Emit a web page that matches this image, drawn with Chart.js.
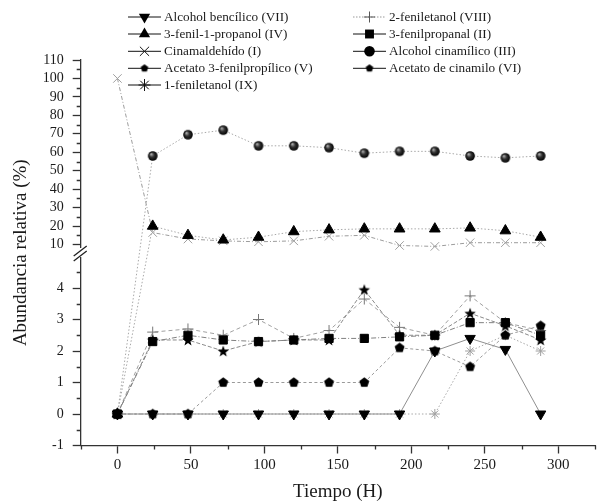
<!DOCTYPE html>
<html><head><meta charset="utf-8">
<script src="https://cdn.jsdelivr.net/npm/chart.js@4/dist/chart.umd.min.js"></script>
<style>html,body{margin:0;padding:0;background:#fff;} #wrap{position:relative;width:612px;height:501px;}</style>
</head><body><div id="wrap"><canvas id="c" width="612" height="501"></canvas></div>
<script>
// ---------- data ----------
const TIME = [0,24,48,72,96,120,144,168,192,216,240,264,288];
const NAMES = ['Alcohol bencílico (VII)','3-fenil-1-propanol (IV)','Cinamaldehído (I)','Acetato 3-fenilpropílico (V)','1-feniletanol (IX)',
               '2-feniletanol (VIII)','3-fenilpropanal (II)','Alcohol cinamílico (III)','Acetato de cinamilo (VI)'];
const alcoholBencilico      = [0,0,0,0,0,0,0,0,0,2.0,2.4,2.05,0];
const fenilPropanol         = [0,20,15,12.5,14,17,18,18.5,18.5,18.5,19,17.5,14];
const cinamaldehido         = [100,16.5,13,12,11.5,12,14.5,15,9.5,9,11,11,11];
const acetatoFenilpropilico = [0,0,0,1,1,1,1,1,2.1,2.0,1.5,2.5,2.8];
const feniletanol1          = [0,0,0,0,0,0,0,0,0,0,2.0,2.5,2.0];
const feniletanol2          = [0,2.6,2.7,2.5,3.0,2.4,2.65,3.65,2.75,2.5,3.75,2.9,2.65];
const fenilpropanal         = [0,2.3,2.5,2.35,2.3,2.35,2.4,2.4,2.45,2.5,2.9,2.9,2.5];
const alcoholCinamilico     = [0,58,69.5,72,63.5,63.5,62.5,59.5,60.5,60.5,58,57,58];
const acetatoCinamilo       = [0,2.35,2.35,2.0,2.3,2.35,2.35,3.95,2.5,2.5,3.2,2.8,2.35];
const X_TICKS = [0,50,100,150,200,250,300];
const X_MINOR = [-25,25,75,125,175,225,275,325];
const Y_TICKS = [-1,0,1,2,3,4,10,20,30,40,50,60,70,80,90,100,110];
const Y_MINOR = [-0.5,0.5,1.5,2.5,3.5,4.5,15,25,35,45,55,65,75,85,95,105];

// ---------- broken y scale ----------
const B_LO = 4.8, B_HI = 5, F_LO = 0.4739, F_HI = 0.4973, Y_MIN = -1, Y_MAX = 110;
function v2f(v){
  if (v <= B_LO) return (v - Y_MIN) / (B_LO - Y_MIN) * F_LO;
  if (v <= B_HI) return F_LO + (v - B_LO) / (B_HI - B_LO) * (F_HI - F_LO);
  return F_HI + (v - B_HI) / (Y_MAX - B_HI) * (1 - F_HI);
}
function f2v(f){
  if (f <= F_LO) return Y_MIN + f / F_LO * (B_LO - Y_MIN);
  if (f <= F_HI) return B_LO + (f - F_LO) / (F_HI - F_LO) * (B_HI - B_LO);
  return B_HI + (f - F_HI) / (1 - F_HI) * (Y_MAX - B_HI);
}
class BrokenScale extends Chart.LinearScale {
  buildTicks(){ this.start = this.min; this.end = this.max; return Y_TICKS.map(v => ({value: v})); }
  getPixelForValue(v){ return this.getPixelForDecimal(v2f(v)); }
  getValueForPixel(p){ return f2v(this.getDecimalForPixel(p)); }
}
BrokenScale.id = 'broken';
BrokenScale.defaults = Chart.LinearScale.defaults;
Chart.register(BrokenScale);

// ---------- marker glyphs ----------
function mk(size, draw){ const c = document.createElement('canvas'); c.width = size; c.height = size; draw(c.getContext('2d'), size/2); return c; }
function pentagon(r){ return mk(Math.ceil(2*r+2), (g,c)=>{ g.beginPath(); for(let k=0;k<5;k++){ const a=-Math.PI/2+k*2*Math.PI/5; g.lineTo(c+r*Math.cos(a), c+r*Math.sin(a)); } g.closePath(); g.fillStyle='#000'; g.fill(); }); }
function starF(r){ return mk(Math.ceil(2*r+2), (g,c)=>{ g.beginPath(); for(let k=0;k<10;k++){ const a=-Math.PI/2+k*Math.PI/5; const rr=k%2?r*0.42:r; g.lineTo(c+rr*Math.cos(a), c+rr*Math.sin(a)+0.6); } g.closePath(); g.fillStyle='#000'; g.fill(); }); }
function sphere(r){ return mk(Math.ceil(2*r+2), (g,c)=>{ const gr=g.createRadialGradient(c-r*0.35,c-r*0.4,0.3,c,c,r); gr.addColorStop(0,'#b0b0b0'); gr.addColorStop(0.45,'#333'); gr.addColorStop(1,'#000'); g.beginPath(); g.arc(c,c,r,0,Math.PI*2); g.fillStyle=gr; g.fill(); }); }
const PENT = pentagon(5.2), STAR = starF(6), SPH = sphere(4.8), PENT_LEG = pentagon(4);

function pts(vals){ return TIME.map((t,i)=>({x:t, y:vals[i]})); }
function ds(label, vals, o){ return Object.assign({label, data: pts(vals), borderWidth:1, pointBorderWidth:1, tension:0, fill:false}, o); }

const datasets = [
  ds(NAMES[0], alcoholBencilico, {borderColor:'#8f8f8f', pointStyle:'triangle', rotation:180, pointRadius:6, pointBackgroundColor:'#000', pointBorderColor:'#000'}),
  ds(NAMES[1], fenilPropanol, {borderColor:'#a8a8a8', borderDash:[1.5,2], pointStyle:'triangle', pointRadius:6.2, pointBackgroundColor:'#000', pointBorderColor:'#000'}),
  ds(NAMES[6], fenilpropanal, {borderColor:'#808080', borderDash:[5,2,1,2], pointStyle:'rect', pointRadius:5.8, pointBackgroundColor:'#000', pointBorderColor:'#000'}),
  ds(NAMES[7], alcoholCinamilico, {borderColor:'#a8a8a8', borderDash:[1.5,2], pointStyle:SPH, pointRadius:5}),
  ds(NAMES[3], acetatoFenilpropilico, {borderColor:'#9a9a9a', borderDash:[3,2.5], pointStyle:PENT, pointRadius:5}),
  ds(NAMES[8], acetatoCinamilo, {borderColor:'#8a8a8a', borderDash:[4,2], pointStyle:STAR, pointRadius:5}),
  ds(NAMES[5], feniletanol2, {borderColor:'#a0a0a0', borderDash:[4,3], pointStyle:'cross', pointRadius:5.5, pointBorderColor:'#777', pointBackgroundColor:'#777'}),
  ds(NAMES[2], cinamaldehido, {borderColor:'#9c9c9c', borderDash:[4,2,1,2], pointStyle:'crossRot', pointRadius:6, pointBorderColor:'#a0a0a0', pointBackgroundColor:'#a0a0a0'}),
  ds(NAMES[4], feniletanol1, {borderColor:'#a8a8a8', borderDash:[1.5,2], pointStyle:'star', pointRadius:5, pointBorderColor:'#a0a0a0', pointBackgroundColor:'#a0a0a0'})
];

const SERIF = "'Liberation Serif','Times New Roman',serif";

// ---------- decoration plugin: minor ticks, axis break, legend ----------
const LEGEND = [
  {name:NAMES[0], col:0, row:0, style:'triangle', rot:180, r:6.5},
  {name:NAMES[1], col:0, row:1, style:'triangle', rot:0, r:6.5},
  {name:NAMES[2], col:0, row:2, style:'crossRot', rot:0, r:6.5, stroke:true},
  {name:NAMES[3], col:0, row:3, style:PENT_LEG},
  {name:NAMES[4], col:0, row:4, style:'star', rot:0, r:6, stroke:true},
  {name:NAMES[5], col:1, row:0, style:'cross', rot:0, r:5.5, stroke:true, gray:true},
  {name:NAMES[6], col:1, row:1, style:'rect', rot:0, r:6.3},
  {name:NAMES[7], col:1, row:2, style:'circle', rot:0, r:5.3},
  {name:NAMES[8], col:1, row:3, style:PENT_LEG}
];
const deco = {
  id:'deco',
  afterDraw(chart){
    const {ctx, chartArea:a, scales:{x, y}} = chart;
    ctx.save();
    ctx.strokeStyle = '#333'; ctx.lineWidth = 1.3;
    ctx.beginPath();
    X_MINOR.forEach(v => { const px = Math.round(x.getPixelForValue(v)) + 0.5; ctx.moveTo(px, a.bottom); ctx.lineTo(px, a.bottom + 4); });
    Y_MINOR.forEach(v => { const py = Math.round(y.getPixelForValue(v)) + 0.5; ctx.moveTo(a.left - 4, py); ctx.lineTo(a.left, py); });
    ctx.stroke();
    // axis break
    const ax = a.left, yc = 253;
    ctx.fillStyle = '#fff'; ctx.fillRect(ax - 2, yc - 5, 4, 9);
    ctx.beginPath();
    ctx.moveTo(ax - 7, yc + 3); ctx.lineTo(ax + 6, yc - 7);
    ctx.moveTo(ax - 7, yc + 8); ctx.lineTo(ax + 6, yc - 2);
    ctx.lineWidth = 1.3; ctx.strokeStyle = '#222'; ctx.stroke();
    // legend
    const colX = [[128,161,164],[353,386,389]], rowY = [17,34,51.3,68.3,85];
    ctx.font = '13.2px ' + SERIF; ctx.textBaseline = 'middle'; ctx.textAlign = 'left';
    LEGEND.forEach(it => {
      const [x1,x2,tx] = colX[it.col], yy = rowY[it.row];
      ctx.beginPath(); ctx.moveTo(x1, yy); ctx.lineTo(x2, yy);
      if (it.gray){ ctx.setLineDash([1.5,1.5]); ctx.strokeStyle = '#999'; } else { ctx.setLineDash([]); ctx.strokeStyle = '#111'; }
      ctx.lineWidth = 1; ctx.stroke(); ctx.setLineDash([]);
      ctx.fillStyle = '#000'; ctx.strokeStyle = it.gray ? '#555' : '#111'; ctx.lineWidth = 1;
      Chart.helpers.drawPoint(ctx, {pointStyle: it.style, rotation: it.rot || 0, radius: it.r || 5, borderWidth: it.stroke ? 1 : 0}, (x1 + x2) / 2, yy);
      ctx.fillStyle = '#1a1a1a';
      ctx.fillText(it.name, tx, yy + 0.5);
    });
    ctx.restore();
  }
};

new Chart(document.getElementById('c'), {
  type: 'line',
  data: { datasets },
  plugins: [deco],
  options: {
    responsive: false, animation: false, devicePixelRatio: 1,
    layout: { padding: { top: 60, right: 17, left: 0, bottom: 0 } },
    plugins: { legend: { display: false }, tooltip: { enabled: false } },
    scales: {
      x: {
        type: 'linear', min: -25, max: 325,
        afterBuildTicks: s => { s.ticks = X_TICKS.map(v => ({value: v})); },
        afterFit: s => { s.height = 55.5; },
        grid: { drawOnChartArea: false, drawTicks: true, tickLength: 8, tickColor: '#333', tickWidth: 1.3 },
        border: { display: true, color: '#333', width: 1.3 },
        ticks: { color: '#1a1a1a', font: { family: SERIF, size: 15 }, padding: 3, maxRotation: 0, autoSkip: false, callback: v => String(v) },
        title: { display: true, text: 'Tiempo (H)', color: '#1a1a1a', font: { family: SERIF, size: 19, lineHeight: 0.9 }, padding: { top: 0, bottom: 0 } }
      },
      y: {
        type: 'broken', min: -1, max: 110,
        afterFit: s => { s.width = 80.7; },
        grid: { drawOnChartArea: false, drawTicks: true, tickLength: 8, tickColor: '#333', tickWidth: 1.3 },
        border: { display: true, color: '#333', width: 1.3 },
        ticks: { color: '#1a1a1a', font: { family: SERIF, size: 14 }, padding: 9, autoSkip: false, callback: v => String(v) },
        title: { display: true, text: 'Abundancia relativa (%)', color: '#1a1a1a', font: { family: SERIF, size: 19, lineHeight: 1.2 }, padding: { top: 10, bottom: 0 } }
      }
    }
  }
});
</script></body></html>
